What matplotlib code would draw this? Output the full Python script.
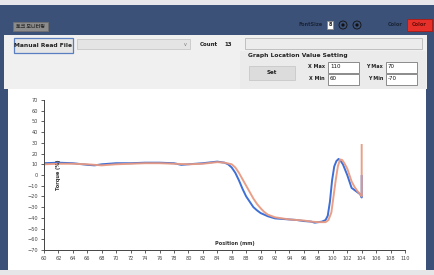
import matplotlib
matplotlib.use("Agg")
from matplotlib import pyplot as plt
from matplotlib.patches import Rectangle, Circle

plt.rcParams['font.family'] = ['DejaVu Sans', 'Noto Sans CJK KR']

# chart data
blue_x = [60, 62, 64, 66, 67, 68, 70, 72, 74, 76, 78, 79, 80, 82, 84, 85, 85.5, 86, 86.5,
          87, 87.5, 88, 88.5, 89, 89.5, 90, 90.5, 91, 92, 93, 94, 95, 96, 97, 97.5, 98,
          98.5, 99, 99.3, 99.6, 99.9, 100.2, 100.5, 100.8, 101.1, 101.4, 101.7, 102,
          102.3, 102.6, 103, 103.4, 103.8, 104, 104]
blue_y = [11, 11.5, 11, 9.5, 9, 10, 11, 11, 11.5, 11.5, 11, 9.5, 10, 11, 12.5, 11.5, 10, 7, 2,
          -5, -13, -20, -25, -30, -33, -35.5, -37, -38.5, -40.5, -41, -41.5, -42, -43, -43.5,
          -44.5, -44, -43.5, -42, -38, -25, -5, 8, 13, 15, 13, 10, 5, 0, -6, -12, -14, -16,
          -18, -21, -1]

salmon_x = [60, 62, 64, 66, 68, 70, 72, 74, 76, 78, 80, 82, 84, 85, 86, 86.5, 87, 87.5, 88,
            88.5, 89, 89.5, 90, 90.5, 91, 92, 93, 94, 95, 96, 97, 98, 99, 99.4, 99.8, 100.1,
            100.4, 100.7, 101.0, 101.3, 101.6, 102, 102.3, 102.6, 103, 103.4, 103.8, 104, 104]
salmon_y = [10, 10.5, 10.5, 10, 9, 10, 10.5, 11, 11, 10.5, 10, 10.5, 12, 11.5, 10, 7, 2, -4,
            -10, -16, -22, -27, -31, -34.5, -37, -39.5, -40.5, -41.5, -42, -42.5, -43.5, -44,
            -44, -42, -35, -20, -5, 8, 14.5, 14, 11, 6, 0, -6, -11, -15, -18, -20, 28]

x_ticks = list(range(60, 111, 2))
y_ticks = list(range(-70, 71, 10))

NAVY = "#3c5178"
PANEL = "#f0f0f0"
W, H = 434, 275

fig = plt.figure(figsize=(W / 100, H / 100), dpi=100)

# background layer in pixel coordinates (top-left origin)
bg = fig.add_axes([0, 0, 1, 1])
bg.set_xlim(0, W)
bg.set_ylim(H, 0)
bg.axis("off")


def box(x, y, w, h, fc, ec="none", lw=0.6):
    bg.add_patch(Rectangle((x, y), w, h, fc=fc, ec=ec, lw=lw))


def label(x, y, s, size=4.2, weight="bold", ha="left", color="#222222", **kw):
    bg.text(x, y, s, fontsize=size, fontweight=weight, ha=ha, va="center", color=color, **kw)


box(0, 0, W, H, "#e8e8ec")
box(0, 5, W, 265, NAVY)

# title strip
box(13, 22, 35, 9, "#8c8c8c", ec="#6f6f6f")
label(30.5, 26.5, "토크 모니터링", size=3.6, ha="center", color="#2a2a2a",
      family=['Noto Sans CJK KR', 'DejaVu Sans'])
label(311, 25, "FontSize", size=3.6, ha="center", color="#1b2538")
box(327, 21, 6, 8, "white", ec="#888888")
label(330, 25, "8", size=3.6, ha="center")
for cx in (343, 357):
    bg.add_patch(Circle((cx, 25), 4, fc=NAVY, ec="#111111", lw=0.6))
    bg.add_patch(Circle((cx, 25), 1.6, fc="#111111", ec="none"))
label(395, 25, "Color", size=3.6, ha="center", color="#1b2538")
box(407, 19, 25, 12, "#e8302a", ec="#aa1a14")
label(419.5, 25, "Color", size=3.6, ha="center", color="#6a0c08")

# control panel
box(4, 35, 423, 54, PANEL)
box(14, 38, 59, 15, "#e6e6e6", ec="#5a7fc0", lw=0.9)
label(43.5, 45.5, "Manual Read File", size=4.3, ha="center")
box(77, 39, 113, 10, "#e4e4e4", ec="#c8c8c8")
label(185, 44, "v", size=3.5, weight="normal", ha="center", color="#777777")
label(200, 44, "Count", size=4.0)
label(224, 44, "13", size=4.0)
box(245, 38, 177, 11, "#ececec", ec="#b8b8b8")
box(240, 51, 186, 38, "#ebebeb")
label(248, 56, "Graph Location Value Setting", size=4.3)
box(249, 66, 46, 14, "#dcdcdc", ec="#c8c8c8")
label(272, 73, "Set", size=4.0, ha="center")
label(325, 67, "X Max", size=3.5, ha="right")
label(325, 79, "X Min", size=3.5, ha="right")
label(383, 67, "Y Max", size=3.5, ha="right")
label(383, 79, "Y Min", size=3.5, ha="right")
for (bx, by, txt) in [(328, 62, "110"), (328, 74, "60"), (386, 62, "70"), (386, 74, "-70")]:
    box(bx, by, 31, 11, "white", ec="#7a7a7a")
    label(bx + 2, by + 4.5, txt, size=4.0, weight="normal", color="#111111")

# chart area
box(8, 89, 418, 181, "white")
box(0, 270, W, 5, "#e6e6e8")

# the plot itself
ax = fig.add_axes([44 / W, (H - 250) / H, 361 / W, 150 / H])
ax.patch.set_alpha(0)
ax.plot(blue_x, blue_y, color="#3d6fd6", lw=1.4)
ax.plot(salmon_x, salmon_y, color="#e89a82", lw=1.4, alpha=0.95)
ax.set_xlim(60, 110)
ax.set_ylim(-70, 70)
ax.set_xticks(x_ticks)
ax.set_yticks(y_ticks)
ax.spines["top"].set_visible(False)
ax.spines["right"].set_visible(False)
for s in ("left", "bottom"):
    ax.spines[s].set_color("#444444")
    ax.spines[s].set_linewidth(0.7)
ax.tick_params(labelsize=3.6, length=2.5, width=0.6, colors="#444444", pad=2)
ax.text(62, 0, "Torque (%)", rotation=90, fontsize=3.6, fontweight="bold",
        ha="center", va="center", color="#333333")
ax.text(86.4, -63.5, "Position (mm)", fontsize=3.6, fontweight="bold",
        ha="center", va="center", color="#333333")

fig.savefig("out.png", dpi=100)
